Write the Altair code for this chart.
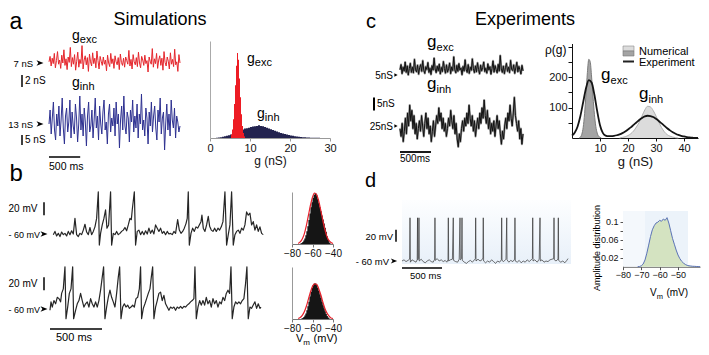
import altair as alt
import numpy as np
import pandas as pd

# ======================= DATA =======================
# ---- panel a: simulated conductance traces (nS), evenly sampled over A_SPAN_MS
A_SPAN_MS = 2100
A_GEXC = [7.2, 8.1, 6.5, 7.8, 6.9, 8.6, 6.2, 7.4, 8.9, 6.8, 7.5, 6.1, 8.3, 7.0, 9.2, 6.6, 7.7, 5.9, 8.0, 7.1,
          9.6, 6.4, 7.9, 6.8, 8.4, 5.8, 7.3, 8.8, 6.3, 7.6, 6.9, 9.9, 6.0, 7.5, 8.2, 6.7, 7.9, 5.6, 8.5, 7.2,
          6.5, 8.7, 6.9, 7.8, 6.2, 9.0, 7.4, 6.0, 8.1, 7.3, 6.6, 8.0, 6.8, 7.5, 5.7, 8.3, 7.0, 6.4, 8.6, 6.9,
          7.7, 6.1, 8.2, 7.2, 6.7, 7.9, 5.9, 8.5, 7.1, 6.6, 7.8, 6.3, 8.0, 7.4, 6.8, 9.1, 6.5, 7.6, 6.0, 8.4,
          7.2, 6.7, 7.9, 6.4, 8.8, 7.0, 6.2, 8.1, 7.5, 6.6, 8.3, 6.9, 7.4, 5.5, 8.0, 7.3, 6.8, 9.4, 6.3, 7.7,
          6.9, 8.6, 6.1, 7.5, 8.2, 6.6, 7.8, 5.8, 8.9, 7.1, 6.5, 8.0, 7.3, 6.0, 8.7, 6.8, 7.6, 6.4, 9.3, 6.7,
          7.2, 5.6, 8.4, 7.0]
A_GINH = [13, 20, 8, 16, 24, 10, 5, 18, 12, 22, 7, 15, 26, 11, 3, 17, 21, 9, 14, 25,
          6, 19, 12, 8, 23, 16, 4, 13, 27, 10, 18, 7, 21, 14, 2, 17, 24, 9, 12, 20,
          6, 15, 26, 11, 17, 5, 22, 13, 8, 19, 25, 10, 14, 3, 18, 23, 9, 16, 12, 21,
          7, 24, 13, 18, 1, 15, 22, 10, 27, 12, 8, 19, 16, 4, 20, 14, 25, 9, 17, 11,
          23, 6, 18, 13, 28, 10, 15, 7, 21, 16, 3, 19, 12, 24, 9, 17, 22, 11, 5, 20,
          14, 26, 8, 16, 19, 0, 13, 23, 10, 18, 7, 25, 15, 11, 21, 6, 17, 14, 9, 12]
# ---- panel a: histograms of g (counts, arbitrary units), left bin edges
A_HEXC_G = [5.0, 5.25, 5.5, 5.75, 6.0, 6.25, 6.5, 6.75, 7.0, 7.25, 7.5, 7.75, 8.0, 8.25, 8.5, 8.75]
A_HEXC = [0, 4, 10, 22, 40, 62, 85, 100, 92, 70, 48, 28, 14, 6, 2, 0]
A_HINH_START, A_HINH_STEP = 1.5, 0.5
A_HINH = [0.3, 0.6, 1.0, 1.5, 2.0, 2.6, 3.3, 4.2, 5.0, 6.0, 7.2, 8.0, 9.0, 10.1, 11.2, 11.5, 12.0, 12.8, 13.6, 13.8,
          14.2, 15.0, 14.2, 13.9, 12.8, 12.0, 11.3, 10.2, 9.3, 8.5, 7.6, 6.8, 6.0, 5.3, 4.6, 4.0, 3.4, 2.9, 2.5, 2.1,
          1.8, 1.5, 1.2, 1.0, 0.8, 0.6, 0.5, 0.4, 0.3, 0.25, 0.2, 0.15, 0.1, 0.08, 0]

# ---- panel b: membrane potential traces (ms, mV)
B1_T = [0, 16, 32, 48, 64, 80, 96, 112, 128, 144,
        160, 176, 192, 208, 224, 240, 256, 272, 288, 304,
        320, 336, 352, 368, 384, 400, 416, 432, 442, 454,
        470, 486, 502, 515, 531, 550, 560, 576, 592, 608,
        624, 640, 656, 672, 688, 704, 720, 736, 749, 758,
        778, 790, 806, 822, 838, 854, 870, 886, 902, 918,
        934, 950, 966, 982, 998, 1014, 1030, 1046, 1062, 1078,
        1094, 1110, 1126, 1142, 1158, 1174, 1194, 1210, 1226, 1242,
        1258, 1274, 1286, 1296, 1306, 1322, 1338, 1354, 1370, 1386,
        1402, 1418, 1427, 1440, 1456, 1472, 1488, 1501, 1517, 1533,
        1549, 1565, 1581, 1597, 1613, 1629, 1648, 1664, 1680, 1696,
        1712, 1728, 1744, 1760, 1776, 1792, 1808, 1824, 1840, 1856,
        1872, 1888, 1904, 1920, 1936, 1952, 1968, 1984, 2000, 2016]
B1_V = [-61, -56, -63, -59, -64, -57, -61, -59, -63, -56,
        -61, -55, -60, -36, -61, -64, -59, -61, -54, -45,
        -57, -61, -50, -61, -56, -49, -36, 5, -77, -59,
        -46, -36, -23, -51, -46, 5, -77, -59, -61, -56,
        -61, -59, -56, -54, -50, -55, -46, -36, -38, -23,
        5, -77, -56, -54, -61, -56, -61, -55, -60, -51,
        -59, -54, -60, -46, -51, -56, -51, -59, -56, -61,
        -56, -60, -59, -61, -56, -59, -38, -54, -59, -56,
        -51, -44, -36, 5, -77, -59, -51, -56, -49, -51,
        -46, -41, -31, -51, -56, -46, -33, -48, -54, -56,
        -51, -56, -51, -54, -49, -41, 5, -77, -61, -46,
        5, -77, -61, -56, -54, -59, -51, -54, -46, -26,
        -31, -28, -46, -41, -54, -46, -56, -49, -59, -61]
B2_T = [-32, -22, -10, 6, 22, 38, 54, 70, 80, 96,
        112, 122, 138, 154, 170, 186, 195, 214, 230, 246,
        262, 278, 294, 310, 326, 342, 358, 374, 390, 406,
        422, 438, 454, 470, 483, 496, 512, 528, 544, 560,
        576, 592, 608, 624, 637, 650, 666, 682, 698, 714,
        730, 746, 762, 778, 794, 810, 826, 838, 848, 864,
        880, 896, 912, 928, 941, 954, 966, 982, 998, 1014,
        1030, 1046, 1062, 1078, 1094, 1110, 1126, 1142, 1158, 1174,
        1190, 1206, 1222, 1238, 1254, 1270, 1286, 1302, 1318, 1334,
        1350, 1360, 1373, 1389, 1405, 1421, 1437, 1453, 1469, 1485,
        1501, 1517, 1533, 1549, 1565, 1581, 1597, 1613, 1629, 1645,
        1661, 1677, 1693, 1706, 1718, 1734, 1750, 1766, 1782, 1798,
        1814, 1830, 1846, 1859, 1872, 1888, 1904, 1920, 1936, 1952,
        1968, 1984, 1994]
B2_V = [-62, -49, -57, -47, -52, -42, -44, -49, -36, -29,
        5, -75, -57, -36, -29, 5, -75, -62, -52, -47,
        -36, -47, -57, -52, -49, -57, -44, -52, -57, -49,
        -57, -47, -31, -11, 5, -75, -57, -42, -31, -42,
        -49, -57, -36, -11, 5, -75, -57, -52, -57, -54,
        -59, -57, -54, -57, -44, -42, -29, 5, -75, -59,
        -52, -44, -36, -29, -11, 5, -75, -57, -47, -36,
        -34, -47, -39, -52, -57, -62, -57, -59, -57, -62,
        -57, -59, -56, -59, -56, -57, -54, -52, -49, -47,
        -44, 5, -75, -57, -47, -54, -47, -54, -42, -52,
        -47, -57, -44, -52, -47, -57, -49, -52, -42, -47,
        -36, -31, -36, 5, -75, -57, -49, -52, -49, -52,
        -47, -44, -21, 5, -75, -57, -59, -54, -49, -59,
        -52, -59, -57]
# ---- panel b: Vm histograms (normalised), 1 mV bins, plus red fits
B1_HIST_START = -73
B1_HIST = [0, 0.01, 0.02, 0.04, 0.07, 0.11, 0.17, 0.25, 0.35, 0.47,
           0.6, 0.72, 0.82, 0.9, 0.96, 1.0, 0.99, 0.95, 0.88, 0.8,
           0.72, 0.64, 0.56, 0.48, 0.4, 0.32, 0.24, 0.15, 0.08, 0.03, 0.01, 0]
B2_HIST_START = -72
B2_HIST = [0, 0.01, 0.02, 0.04, 0.07, 0.11, 0.17, 0.25, 0.34, 0.44,
           0.53, 0.61, 0.66, 0.69, 0.7, 0.69, 0.66, 0.61, 0.55, 0.48,
           0.41, 0.34, 0.27, 0.21, 0.15, 0.1, 0.06, 0.03, 0.01, 0]
B_FIT_V = [-74, -72, -70, -68, -66, -64, -62, -60, -58, -56, -54, -52, -50, -48, -46, -44, -42, -40]
B1_FIT = [0.01, 0.04, 0.1, 0.2, 0.36, 0.56, 0.76, 0.92, 1.0, 0.97, 0.85, 0.67, 0.47, 0.29, 0.15, 0.07, 0.03, 0.01]
B2_FIT = [0.01, 0.03, 0.07, 0.14, 0.25, 0.39, 0.53, 0.64, 0.69, 0.68, 0.6, 0.48, 0.34, 0.21, 0.12, 0.06, 0.02, 0.01]

# ---- panel c: experimental conductance traces (nS), evenly sampled over C_SPAN_MS
C_SPAN_MS = 1984
C_GEXC = [7, 9, 5.5, 8, 6.5, 10, 6, 8.5, 5, 7.5, 9.5, 6, 8, 5.8, 11, 7, 6.2, 8.8, 5.3, 7.8,
          9, 6.4, 10.5, 6.8, 5.6, 8.2, 7.1, 9.8, 6, 7.6, 5.2, 8.6, 6.9, 11.5, 7.3, 5.9, 8.4, 6.6, 9.2, 5.4,
          7.9, 6.3, 10.2, 7.5, 5.7, 8.9, 6.1, 7.4, 9.6, 5.5, 8.1, 6.7, 12, 7, 5.8, 8.7, 6.4, 9.4, 6.9, 7.7,
          5.1, 8.3, 6.5, 10.8, 7.2, 6, 9, 5.6, 8, 6.8, 11.2, 7.4, 5.9, 8.5, 6.2, 9.7, 7.1, 5.4, 8.8, 6.6,
          7.9, 10, 6.3, 7.6, 5.7, 9.3, 6.9, 8.2, 5.3, 7.5, 10.4, 6.1, 8.6, 7, 5.8, 9.1, 6.5, 12.5, 7.3, 6,
          8.4, 5.5, 7.8, 9.5, 6.4, 8, 5.9, 10.6, 7.2, 6.7, 8.9, 5.6, 7.7, 9.9, 6.2, 8.3, 7, 5.4, 8.7, 6.6]
C_GINH = [24, 21, 26, 19, 23, 28, 22, 30, 25, 33, 27, 31, 24, 29, 22, 26, 20, 24, 27, 23,
          29, 25, 21, 26, 30, 24, 28, 22, 25, 19, 23, 27, 21, 25, 29, 26, 32, 27, 30, 24,
          28, 23, 26, 21, 24, 28, 25, 31, 27, 24, 29, 22, 26, 20, 17, 22, 19, 24, 27, 23,
          28, 25, 30, 26, 33, 28, 25, 29, 23, 27, 21, 25, 28, 24, 30, 26, 32, 28, 35, 29,
          26, 31, 24, 28, 22, 26, 23, 27, 21, 25, 29, 24, 27, 22, 18, 23, 20, 25, 28, 24,
          30, 27, 33, 28, 25, 30, 36, 29, 26, 23, 27, 20, 24, 18, 22]
# ---- panel c: rho(g) distributions
C_EXP_G = list(range(0, 46))
C_EXP = [8, 18, 38, 72, 118, 163, 190, 182, 142, 88, 42, 17, 8, 6, 6, 7, 9, 12, 16, 21,
         28, 35, 43, 51, 59, 66, 71, 73, 72, 69, 63, 56, 48, 40, 32, 25, 19, 14, 10, 7,
         5, 3, 2, 1, 0, 0]
C_NEXC_G = [2.5, 3, 3.5, 4, 4.5, 5, 5.5, 6, 6.5, 7, 7.5, 8, 8.5, 9, 9.5, 10, 10.5]
C_NEXC = [0, 3, 12, 35, 80, 145, 215, 258, 250, 200, 135, 78, 38, 16, 6, 2, 0]
C_NINH_G = list(range(17, 39))
C_NINH = [0, 2, 4, 8, 14, 23, 36, 52, 72, 92, 104, 102, 90, 72, 52, 34, 20, 11, 6, 3, 1, 0]

# ---- panel d: recorded membrane potential (ms, mV)
D_T = [0, 25, 50, 75, 95, 100, 105, 125, 150, 175,
       190, 194, 198, 208, 212, 216, 240, 265, 290, 315,
       340, 365, 390, 408, 412, 416, 440, 465, 490, 515,
       540, 560, 575, 579, 583, 605, 630, 641, 645, 670,
       695, 715, 725, 729, 745, 750, 754, 780, 805, 830,
       855, 880, 905, 917, 921, 925, 950, 975, 1000, 1012,
       1016, 1020, 1045, 1070, 1095, 1120, 1145, 1170, 1195, 1220,
       1242, 1246, 1250, 1270, 1300, 1309, 1313, 1335, 1360, 1385,
       1408, 1412, 1416, 1440, 1465, 1490, 1515, 1540, 1565, 1590,
       1615, 1630, 1634, 1638, 1660, 1690, 1715, 1725, 1729, 1750,
       1775, 1800, 1825, 1850, 1875, 1896, 1900, 1904, 1925, 1950,
       1954, 1958, 1985, 2010, 2035, 2060, 2075]
D_V = [-60, -58, -61, -59, -57, 12, -62, -58, -60, -62,
       -58, 12, -58, -56, 12, -60, -57, -61, -63, -60,
       -58, -61, -62, -57, 12, -59, -56, -60, -58, -61,
       -59, -62, -58, 12, -60, -58, -57, 12, -59, -61,
       -62, -57, 12, -58, -56, 12, -59, -62, -64, -61,
       -59, -62, -58, -56, 12, -60, -57, -60, -58, -55,
       12, -60, -63, -60, -62, -58, -61, -64, -60, -62,
       -58, 12, -59, -61, -57, 12, -58, -62, -59, -61,
       -57, 12, -60, -62, -59, -63, -60, -62, -58, -61,
       -58, -56, 12, -60, -58, -62, -57, 12, -60, -58,
       -62, -60, -61, -58, -57, -56, 12, -58, -60, -57,
       12, -59, -62, -60, -63, -59, -56]
D_HIST_V = list(range(-72, -37))
D_HIST = [0, 0.0005, 0.002, 0.006, 0.015, 0.03, 0.048, 0.067, 0.082, 0.091,
          0.097, 0.099, 0.103, 0.101, 0.106, 0.103, 0.109, 0.097, 0.08, 0.063,
          0.05, 0.037, 0.026, 0.018, 0.012, 0.008, 0.005, 0.003, 0.002, 0.0015,
          0.001, 0.0008, 0.0005, 0.0003, 0]

# ---- tick values
A_HIST_XTICKS = [0, 10, 20, 30]
B_HIST_XTICKS = [-80, -60, -40]
C_HIST_XTICKS = [10, 20, 30, 40]
C_HIST_YTICKS = [50, 100, 150, 200, 250, 300]
D_HIST_XTICKS = [-80, -70, -60, -50]
D_HIST_YTICKS = [0.02, 0.04, 0.06, 0.08, 0.1]

# ======================= LAYOUT =======================
W, H = 693, 339
M = 8  # page margin: layout numbers below are page pixels
FONT = "Liberation Sans"
ONE = pd.DataFrame({"k": [0]})
ARROW = "M -1 -0.8 L 1 0 L -1 0.8 L -0.45 0 Z"


def sx(domain, p0, p1):
    return alt.Scale(domain=domain, range=[p0 - M, p1 - M], nice=False, zero=False)


def sy(domain, pbot, ptop):
    return alt.Scale(domain=domain, range=[pbot - M, ptop - M], nice=False, zero=False)


def trace(t, v, xsc, ysc, color, width, opacity=1.0, interp="linear"):
    df = pd.DataFrame({"t": t, "v": v})
    return alt.Chart(df).mark_line(color=color, strokeWidth=width, opacity=opacity,
                                   interpolate=interp, strokeJoin="round").encode(
        x=alt.X("t:Q", scale=xsc, axis=None),
        y=alt.Y("v:Q", scale=ysc, axis=None))


def area(g, v, xsc, ysc, fill, interp, xaxis=None, yaxis=None, xtitle=None, opacity=1.0):
    df = pd.DataFrame({"g": g, "v": v})
    return alt.Chart(df).mark_area(color=fill, interpolate=interp, opacity=opacity).encode(
        x=alt.X("g:Q", scale=xsc, axis=xaxis, title=xtitle),
        y=alt.Y("v:Q", scale=ysc, axis=yaxis, title=None),
        y2=alt.datum(0))


def txt(s, x, y, size, align="left", color="black", angle=0, baseline="alphabetic"):
    return alt.Chart(ONE).mark_text(text=s, align=align, baseline=baseline, fontSize=size,
                                    font=FONT, color=color, angle=angle).encode(
        x=alt.value(x - M), y=alt.value(y - M))


def gsub(x, y, sub, sg, ss):
    return [txt("g", x, y, sg), txt(sub, x + 0.56 * sg, y + 0.22 * sg, ss)]


def vm_label(x, y, s1, s2):
    return [txt("V", x, y, s1), txt("m", x + 0.67 * s1, y + 0.3 * s1, s2),
            txt("(mV)", x + 0.67 * s1 + 0.9 * s2 + 3, y, s1)]


def hbar(t0, t1, xsc, y, w=1.5):
    df = pd.DataFrame({"a": [t0], "b": [t1]})
    return alt.Chart(df).mark_rule(color="black", strokeWidth=w).encode(
        x=alt.X("a:Q", scale=xsc, axis=None), x2="b:Q", y=alt.value(y - M))


def vbar(v0, v1, ysc, x, w=1.5):
    df = pd.DataFrame({"a": [v0], "b": [v1]})
    return alt.Chart(df).mark_rule(color="black", strokeWidth=w).encode(
        y=alt.Y("a:Q", scale=ysc, axis=None), y2="b:Q", x=alt.value(x - M))


def level(value, ysc, text, x_text, x_arrow, size, shape=ARROW, asize=49):
    df = pd.DataFrame({"v": [value]})
    a = alt.Chart(df).mark_point(shape=shape, filled=True, color="black", size=asize,
                                 opacity=1, strokeWidth=0).encode(
        x=alt.value(x_arrow - M), y=alt.Y("v:Q", scale=ysc, axis=None))
    t = alt.Chart(df).mark_text(text=text, align="right", baseline="middle", fontSize=size,
                                font=FONT, dy=1).encode(
        x=alt.value(x_text - M), y=alt.Y("v:Q", scale=ysc, axis=None))
    return [a, t]


def rect(x0, x1, y0, y1, fill, stroke=None, sw=0.0):
    kw = dict(color=fill)
    if stroke:
        kw.update(stroke=stroke, strokeWidth=sw)
    return alt.Chart(ONE).mark_rect(**kw).encode(
        x=alt.value(x0 - M), x2=alt.value(x1 - M), y=alt.value(y0 - M), y2=alt.value(y1 - M))


def xaxis(y_px, values, size=11, dom="#888", tick=3, tickcol=None, title_size=12, pad=1):
    return alt.Axis(orient="bottom", offset=y_px - M - H, values=values, grid=False,
                    domainColor=dom, tickColor=tickcol or dom, tickSize=tick,
                    labelFont=FONT, labelFontSize=size, labelColor="#111", labelPadding=pad,
                    labelOverlap=False, labelFlush=False,
                    titleFont=FONT, titleFontSize=title_size, titleFontWeight="normal",
                    titleColor="#111", titlePadding=2)


def yaxis_line(x_px, dom="#999"):
    return alt.Axis(orient="left", offset=-(x_px - M), grid=False, ticks=False, labels=False,
                    domainColor=dom)


layers = []

# ---------------- panel a ----------------
AX = sx([0, A_SPAN_MS], 49, 180)
AY_EXC = sy([3, 11], 87, 39)
AY_INH = sy([-3, 29], 156, 92)
layers += [txt("a", 9.5, 29, 23), txt("Simulations", 160, 24.5, 18, align="center")]
layers += [trace(np.linspace(0, A_SPAN_MS, len(A_GEXC)), A_GEXC, AX, AY_EXC, "#e5262c", 1.0)]
layers += [trace(np.linspace(0, A_SPAN_MS, len(A_GINH)), A_GINH, AX, AY_INH, "#2e3191", 1.0)]
layers += gsub(72, 40, "exc", 14, 11) + gsub(72, 87, "inh", 14, 11)
layers += level(7, AY_EXC, "7 nS", 33, 40, 9.5) + level(13, AY_INH, "13 nS", 33, 40, 9.5)
layers += [vbar(3, 5, AY_EXC, 22), txt("2 nS", 25, 84, 10)]
layers += [vbar(2.5, 7.5, AY_INH, 22), txt("5 nS", 25, 143, 10)]
layers += [hbar(0, 500, AX, 157), txt("500 ms", 49, 170, 10.5)]

AHX = sx([0, 30], 210, 330)
AHY = sy([0, 114], 138, 41)
a_inh_g = [A_HINH_START + i * A_HINH_STEP for i in range(len(A_HINH))]
layers += [area(a_inh_g, A_HINH, AHX, AHY, "#23234f", "step-after",
                xaxis=xaxis(138, A_HIST_XTICKS, size=11, dom="#999"), yaxis=yaxis_line(210, "#aaa"),
                xtitle="g (nS)")]
layers += [area(A_HEXC_G, A_HEXC, AHX, AHY, "#ed1c24", "step-after")]
layers += gsub(247, 63, "exc", 14, 11) + gsub(257, 118, "inh", 14, 11)

# ---------------- panel b ----------------
BX = sx([0, 2000], 53.3, 261.6)
B1Y = sy([-80, 10], 247, 188.5)
B2Y = sy([-80, 10], 322, 263.5)
layers += [txt("b", 9.5, 181, 24)]
layers += [trace(B1_T, B1_V, BX, B1Y, "#262626", 1.2), trace(B2_T, B2_V, BX, B2Y, "#262626", 1.2)]
layers += [vbar(-31, -11, B1Y, 44), txt("20 mV", 8.5, 212, 10)]
layers += [vbar(-31, -11, B2Y, 44), txt("20 mV", 8.5, 287, 10)]
layers += level(-60, B1Y, "- 60 mV", 40, 44, 9) + level(-60, B2Y, "- 60 mV", 40, 44, 9)
layers += [hbar(-32, 468, BX, 329), txt("500 ms", 56, 341, 11)]

BHX = sx([-80, -40], 292, 333)
BH1Y = sy([0, 1.02], 244, 192)
BH2Y = sy([0, 1.02], 319, 267)
b1g = [B1_HIST_START + i for i in range(len(B1_HIST))]
b2g = [B2_HIST_START + i for i in range(len(B2_HIST))]
layers += [area(b1g, B1_HIST, BHX, BH1Y, "#151515", "step-after",
                xaxis=xaxis(244, B_HIST_XTICKS, size=10, dom="#777"), yaxis=yaxis_line(292, "#999"))]
layers += [area(b2g, B2_HIST, BHX, BH2Y, "#151515", "step-after",
                xaxis=xaxis(319, B_HIST_XTICKS, size=10, dom="#777"), yaxis=yaxis_line(292, "#999"))]
layers += [trace(B_FIT_V, B1_FIT, BHX, BH1Y, "#e8202a", 1.2, interp="monotone"),
           trace(B_FIT_V, B2_FIT, BHX, BH2Y, "#e8202a", 1.2, interp="monotone")]
layers += vm_label(296, 342, 11, 8)

# ---------------- panel c ----------------
CX = sx([0, C_SPAN_MS], 400, 523)
CY_EXC = sy([0, 15], 88, 49)
CY_INH = sy([10, 40], 165, 87)
layers += [txt("c", 366, 28, 20), txt("Experiments", 525, 24.5, 18, align="center")]
tce = np.linspace(0, C_SPAN_MS, len(C_GEXC))
tci = np.linspace(0, C_SPAN_MS, len(C_GINH))
layers += [trace(tce, C_GEXC, CX, CY_EXC, "#8f8f8f", 2.2), trace(tce, C_GEXC, CX, CY_EXC, "#111", 1.0)]
layers += [trace(tci, C_GINH, CX, CY_INH, "#8f8f8f", 2.2), trace(tci, C_GINH, CX, CY_INH, "#111", 1.0)]
layers += gsub(427, 47, "exc", 17, 11) + gsub(427, 89, "inh", 17, 11)
layers += level(5, CY_EXC, "5nS", 393, 396, 10, shape="triangle-right", asize=14)
layers += level(25, CY_INH, "25nS", 393, 396, 10, shape="triangle-right", asize=14)
layers += [vbar(31, 36, CY_INH, 374, 2), txt("5nS", 377, 107, 10)]
layers += [hbar(0, 500, CX, 152, 1.8), txt("500ms", 400, 162, 10)]

CHX = sx([0, 45], 572, 698)
CHY = sy([0, 310], 138, 43.5)
cyax = alt.Axis(orient="left", offset=-(572 - M), values=C_HIST_YTICKS, grid=False,
                domainColor="#111", tickColor="#111", tickSize=4, labelFont=FONT, labelFontSize=11,
                labelColor="#111", labelPadding=1, labelOverlap=False,
                labelExpr="datum.value == 100 || datum.value == 200 ? datum.label : ''")
layers += [area(C_NINH_G, C_NINH, CHX, CHY, "#dcdcdc", "monotone",
                xaxis=xaxis(138, C_HIST_XTICKS, size=11, dom="#111", title_size=13), yaxis=cyax,
                xtitle="g (nS)")]
layers += [trace(C_NINH_G, C_NINH, CHX, CHY, "#b0b0b0", 1.0, interp="monotone")]
layers += [area(C_NEXC_G, C_NEXC, CHX, CHY, "#a4a4a4", "monotone"),
           trace(C_NEXC_G, C_NEXC, CHX, CHY, "#7c7c7c", 1.0, interp="monotone")]
layers += [trace(C_EXP_G, C_EXP, CHX, CHY, "#151515", 1.8, interp="monotone")]
layers += [txt("ρ(g)", 545, 54, 12)]
layers += gsub(601, 80, "exc", 17, 11) + gsub(639, 99, "inh", 17, 11)
layers += [rect(623, 634, 46, 51, "#dcdcdc", "#8a8a8a", 0.6), rect(623, 634, 51, 56, "#a4a4a4", "#777", 0.6)]
layers += [alt.Chart(ONE).mark_rule(color="#222", strokeWidth=2).encode(
    x=alt.value(623 - M), x2=alt.value(634 - M), y=alt.value(61.5 - M))]
layers += [txt("Numerical", 639, 55, 11), txt("Experiment", 639, 66, 11)]

# ---------------- panel d ----------------
DX = sx([0, 2075], 402, 568)
DY = sy([-75, 15], 270, 216)
grad = alt.Gradient(gradient="linear",
                    stops=[alt.GradientStop(color="#fdfeff", offset=0),
                           alt.GradientStop(color="#e8f0f9", offset=1)],
                    x1=0, x2=0, y1=0, y2=1)
layers += [alt.Chart(ONE).mark_rect(color=grad).encode(
    x=alt.value(402 - M), x2=alt.value(571 - M), y=alt.value(200 - M), y2=alt.value(264 - M))]
layers += [txt("d", 365, 187, 20)]
layers += [trace(D_T, D_V, DX, DY, "#333333", 0.7)]
layers += [vbar(-28, -8, DY, 396), txt("20 mV", 393, 240, 9.5, align="right")]
layers += level(-60, DY, "- 60 mV", 389, 394, 9.5, asize=40)
layers += [hbar(0, 500, DX, 268, 1.6), txt("500 ms", 410, 279, 9.5)]

DHX = sx([-80, -38], 623, 700)
DHY = sy([0, 0.12], 266.7, 212.7)
layers += [rect(623, 645, 211, 266.7, "#f4f8fc"), rect(645, 688, 211, 266.7, "#ecf3fa")]
dyax = alt.Axis(orient="left", offset=-(623 - M), values=D_HIST_YTICKS, grid=False, format="~g",
                domainColor="#555", tickColor="#555", tickSize=3, labelFont=FONT, labelFontSize=9,
                labelColor="#111", labelPadding=2, labelOverlap=False,
                labelExpr="(abs(datum.value-0.04)<1e-6 || abs(datum.value-0.08)<1e-6) ? '' : datum.label")
layers += [area(D_HIST_V, D_HIST, DHX, DHY, "#d4e3c1", "linear",
                xaxis=xaxis(266.7, D_HIST_XTICKS, size=9, dom="#555"), yaxis=dyax)]
layers += [trace(D_HIST_V, D_HIST, DHX, DHY, "#5b73b6", 1.0)]
layers += [txt("Amplitude distribution", 597, 248, 9, align="center", angle=270, baseline="middle")]
layers += vm_label(650, 296, 10, 7.5)

chart = alt.layer(*layers).resolve_scale(x="independent", y="independent").properties(
    width=W, height=H, padding=0, autosize=alt.AutoSizeParams(type="none")
).configure_view(stroke=None)

chart.save("out.html", embed_options={"renderer": "svg", "actions": False})
